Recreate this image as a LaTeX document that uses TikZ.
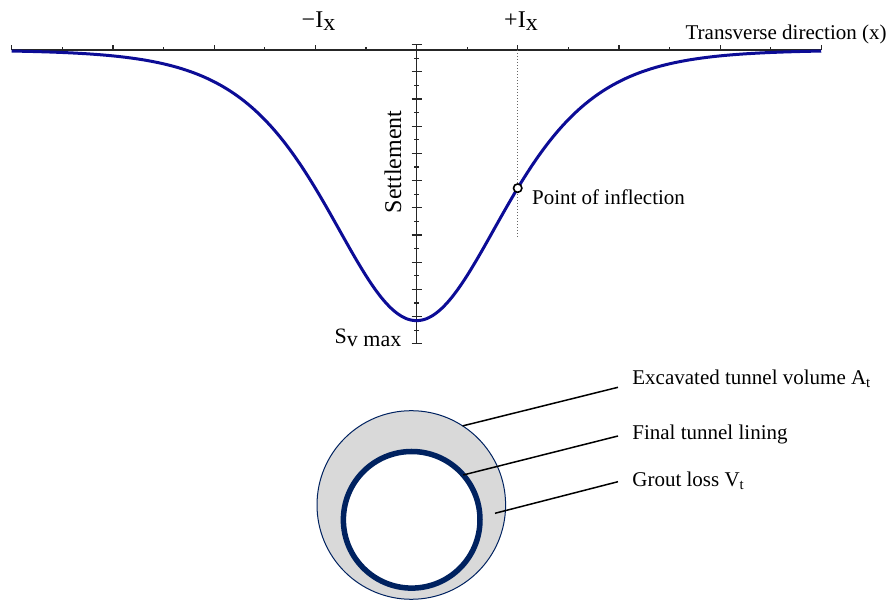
\documentclass[tikz,border=0pt]{standalone}
\usepackage{fontspec}
\setmainfont{Liberation Serif}
\usetikzlibrary{calc,positioning}
\definecolor{troughblue}{RGB}{12,12,150}
\definecolor{liningnavy}{RGB}{0,34,96}
\definecolor{groutgray}{RGB}{217,217,217}
\tikzset{
  axisline/.style={draw=black!85, line width=0.6pt},
  trough/.style={draw=troughblue, line width=1.5pt, line join=round},
  txt/.style={font=\fontsize{10.5}{12}\selectfont, inner sep=0pt},
  bigtxt/.style={font=\fontsize{12}{14}\selectfont, inner sep=0pt},
  leader/.style={draw=black, line width=0.75pt},
  marker/.style={circle, draw=black, fill=white, line width=0.8pt, inner sep=0pt, minimum size=4.2pt},
  tunnel/.style={circle, inner sep=0pt, outer sep=0pt}
}
\newcommand{\lowsub}[1]{\raisebox{-1.4pt}{#1}}

\begin{document}
\begin{tikzpicture}[x=0.5pt, y=-0.5pt]
  \useasboundingbox (0,0) rectangle (890,603);

  % settlement trough axes
  \draw[axisline] (11.7,50) -- (821.3,50);
  \foreach \i in {-8,-6,-4,-2,2,4,6,8}
    \draw[axisline] ({416.5+50.6*\i},50) -- ++(0,-5);
  \foreach \i in {-7,-5,...,7}
    \draw[axisline] ({416.5+50.6*\i},50) -- ++(0,-2.5);
  \draw[axisline] (416.5,44.7) -- (416.5,344);
  \foreach \j in {0,2,...,22}
    \draw[axisline] (411.5,{44.7+13.6*\j}) -- ++(10,0);
  \foreach \j in {1,3,...,21}
    \draw[axisline] (414,{44.7+13.6*\j}) -- ++(5,0);
  \draw[black!60, densely dotted, line width=0.5pt] (517.7,50) -- (517.7,238);

  \draw[trough] plot[domain=-8:8, samples=161, smooth]
    ({416.5+50.6*\x}, {50+270.7/(cosh(\x/2.307))^2});
  \node[marker] (inflect) at (517.7, {50+270.7/(cosh(2/2.307))^2}) {};

  \node[txt, anchor=base east] (xlab) at (887,40) {Transverse direction (x)};
  \node[bigtxt, anchor=base] (ixneg) at (318.5,27.5) {−I\lowsub{x}};
  \node[bigtxt, anchor=base] (ixpos) at (521,27.5) {+I\lowsub{x}};
  \node[bigtxt, rotate=90] (settle) at (393,162) {Settlement};
  \node[font=\fontsize{11}{13}\selectfont, inner sep=0pt, anchor=base east] (svmax) at (401.7,343.3) {S\lowsub{v max}};
  \node[txt, anchor=base west] (inflab) at ($(inflect)+(14,16)$) {Point of inflection};

  % tunnel section
  \node[tunnel, draw=liningnavy, line width=0.5pt, fill=groutgray, minimum size=94.3pt] (excav) at (411.3,505) {};
  \node[tunnel, draw=liningnavy, line width=2.75pt, fill=white, minimum size=68.3pt] (lining) at (411.7,519.8) {};
  \coordinate (grout) at ($(excav.center)+(83.7,8.3)$);

  \node[txt, anchor=base west] (lblexcav) at (632,384.3) {Excavated tunnel volume A\textsubscript{t}};
  \node[txt, anchor=base west] (lbllining) at (632,439.3) {Final tunnel lining};
  \node[txt, anchor=base west] (lblgrout) at (632,486.7) {Grout loss V\textsubscript{t}};
  \draw[leader] (excav.57) -- ($(lblexcav.base west)+(-14,3)$);
  \draw[leader] (lining.41) -- ($(lbllining.base west)+(-14,-3.3)$);
  \draw[leader] (grout) -- ($(lblgrout.base west)+(-14,-5)$);
\end{tikzpicture}
\end{document}
